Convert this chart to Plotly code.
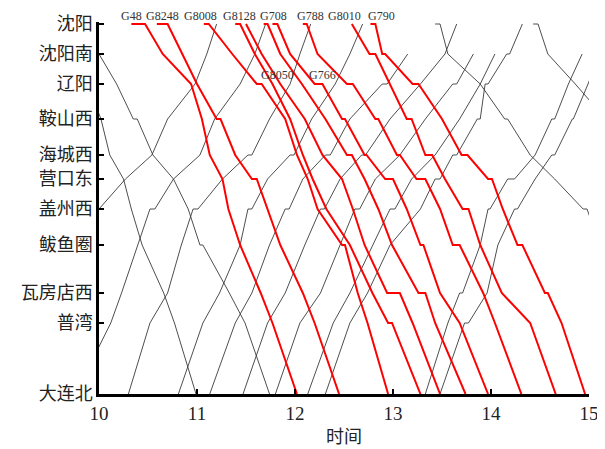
import plotly.graph_objects as go

stations = ["沈阳", "沈阳南", "辽阳", "鞍山西", "海城西", "营口东", "盖州西", "鲅鱼圈", "瓦房店西", "普湾", "大连北"]
station_km = [0, 30, 60, 95, 131, 155, 185, 221, 269, 299, 370]
hour_ticks = [10, 11, 12, 13, 14, 15]

# ---- red trains (down direction), time in hours, station index ----
G48_t = [10.33, 10.47, 10.65, 10.94, 11.05, 11.13, 11.26, 11.32, 11.44, 11.65, 11.77, 12.02]
G48_s = [0, 0, 1, 2, 3, 4, 5, 6, 7, 8, 9, 10]
G8248_t = [10.59, 10.70, 10.85, 11.00, 11.20, 11.24, 11.39, 11.56, 11.61, 11.72, 11.85, 12.08, 12.20, 12.45]
G8248_s = [0, 0, 1, 2, 3, 3, 4, 5, 5, 6, 7, 8, 9, 10]
G8008_t = [11.07, 11.12, 11.36, 11.61, 11.66, 11.90, 12.02, 12.13, 12.23, 12.48, 12.51, 12.64, 12.74, 12.95]
G8008_s = [0, 0, 1, 2, 2, 3, 4, 5, 6, 7, 7, 8, 9, 10]
G8128_t = [11.39, 11.44, 11.59, 11.77, 11.95, 12.08, 12.18, 12.32, 12.56, 12.79, 12.95, 12.99, 13.28]
G8128_s = [0, 0, 1, 2, 3, 4, 5, 6, 7, 8, 9, 9, 10]
G8050_t = [11.50, 11.66, 11.85, 12.10, 12.28, 12.48, 12.59, 12.71, 12.94, 13.07, 13.20, 13.48]
G8050_s = [0, 1, 2, 3, 4, 5, 6, 7, 8, 8, 9, 10]
G708_t = [11.68, 11.72, 11.85, 12.07, 12.31, 12.53, 12.58, 12.71, 12.85, 12.99, 13.26, 13.33, 13.43, 13.74]
G708_s = [0, 0, 1, 2, 3, 4, 4, 5, 6, 7, 8, 8, 9, 10]
G766_t = [11.77, 11.82, 11.95, 12.20, 12.28, 12.48, 12.51, 12.71, 12.73, 12.92, 13.00, 13.14, 13.28, 13.31, 13.48, 13.68, 13.97]
G766_s = [0, 0, 1, 2, 2, 3, 3, 4, 4, 5, 5, 6, 7, 7, 8, 9, 10]
G788_t = [12.08, 12.12, 12.23, 12.53, 12.59, 12.82, 12.85, 13.04, 13.07, 13.24, 13.33, 13.48, 13.61, 13.68, 13.92, 14.04, 14.31]
G788_s = [0, 0, 1, 2, 2, 3, 3, 4, 4, 5, 5, 6, 7, 7, 8, 9, 10]
G8010_t = [12.58, 12.76, 12.82, 12.97, 13.14, 13.19, 13.33, 13.40, 13.53, 13.71, 13.77, 13.89, 14.11, 14.40, 14.66]
G8010_s = [0, 1, 1, 2, 3, 3, 4, 4, 5, 6, 6, 7, 8, 9, 10]
G790_t = [12.77, 12.82, 12.89, 12.92, 13.20, 13.26, 13.50, 13.70, 13.76, 13.97, 14.01, 14.12, 14.27, 14.32, 14.55, 14.58, 14.72, 14.96]
G790_s = [0, 0, 1, 1, 2, 2, 3, 4, 4, 5, 5, 6, 7, 7, 8, 8, 9, 10]

# ---- black trains ----
D1_t = [10.00, 10.18, 10.35, 10.39, 10.55, 10.76, 10.91, 11.03, 11.06, 11.33, 11.49, 11.74]
D1_s = [1, 2, 3, 3, 4, 5, 6, 7, 7, 8, 9, 10]
D2_t = [9.88, 10.02, 10.11, 10.25, 10.33, 10.44, 10.66, 10.77, 10.99]
D2_s = [2, 3, 4, 5, 6, 7, 8, 9, 10]
D3_t = [13.43, 13.48, 13.56, 13.89, 14.14, 14.17, 14.40, 14.65, 14.94, 14.98, 15.11]
D3_s = [0, 0, 1, 2, 3, 3, 4, 5, 6, 6, 7]
D4_t = [14.43, 14.48, 14.58, 14.86, 15.17]
D4_s = [0, 0, 1, 2, 3]
AL1_t = [10.00, 10.27, 10.54, 10.70, 10.98, 11.10, 11.20]
AL1_s = [6, 5, 4, 3, 2, 1, 0]
A0_t = [9.76, 10.12, 10.23, 10.40, 10.52, 10.57, 10.76, 11.03, 11.18, 11.44, 11.59, 11.70]
A0_s = [10, 9, 8, 7, 6, 6, 5, 4, 3, 2, 1, 0]
A1_t = [10.30, 10.52, 10.70, 10.84, 10.96, 11.01, 11.26, 11.52, 11.56, 11.74, 11.95, 12.05, 12.16]
A1_s = [10, 9, 8, 7, 6, 6, 5, 4, 4, 3, 2, 1, 0]
A2_t = [10.81, 11.06, 11.23, 11.44, 11.52, 11.56, 11.72, 11.95, 11.99, 12.17, 12.41, 12.56, 12.69]
A2_s = [10, 9, 8, 7, 6, 6, 5, 4, 4, 3, 2, 1, 0]
A3_t = [11.13, 11.39, 11.56, 11.74, 11.90, 11.94, 12.08, 12.31, 12.36, 12.56, 12.89, 12.94, 13.15]
A3_s = [10, 9, 8, 7, 6, 6, 5, 4, 4, 3, 2, 2, 1]
A4_t = [11.47, 11.72, 11.90, 12.10, 12.26, 12.30, 12.46, 12.68, 12.72, 12.97, 13.28, 13.53, 13.65]
A4_s = [10, 9, 8, 7, 6, 6, 5, 4, 4, 3, 2, 1, 0]
A5_t = [11.80, 12.05, 12.26, 12.46, 12.61, 12.66, 12.82, 13.07, 13.33, 13.61, 13.65, 13.82]
A5_s = [10, 9, 8, 7, 6, 6, 5, 4, 3, 2, 2, 1]
A6_t = [12.13, 12.39, 12.56, 12.79, 12.97, 13.02, 13.19, 13.43, 13.68, 13.89, 14.04]
A6_s = [10, 9, 8, 7, 6, 6, 5, 4, 3, 2, 1]
A7_t = [12.31, 12.56, 12.74, 12.97, 13.28, 13.43, 13.48, 13.61, 13.65, 13.86, 13.89, 13.94, 13.97, 14.16, 14.19, 14.32]
A7_s = [10, 9, 8, 7, 6, 5, 5, 4, 4, 3, 3, 2, 2, 1, 1, 0]
A8_t = [13.33, 13.56, 13.68, 13.71, 13.89, 13.97, 13.99, 14.17, 14.24, 14.45, 14.62, 14.65, 14.79, 14.93]
A8_s = [10, 9, 8, 8, 7, 6, 6, 5, 5, 4, 3, 3, 2, 1]
A9_t = [13.48, 13.73, 13.77, 13.96, 14.07, 14.24, 14.27, 14.45, 14.62, 14.65, 14.83, 14.84, 14.99, 15.11]
A9_s = [10, 9, 9, 8, 7, 6, 6, 5, 4, 4, 3, 3, 2, 1]

red_trains = {
    "G48": (G48_t, G48_s), "G8248": (G8248_t, G8248_s), "G8008": (G8008_t, G8008_s),
    "G8128": (G8128_t, G8128_s), "G8050": (G8050_t, G8050_s), "G708": (G708_t, G708_s),
    "G766": (G766_t, G766_s), "G788": (G788_t, G788_s), "G8010": (G8010_t, G8010_s),
    "G790": (G790_t, G790_s),
}
black_trains = [
    (D1_t, D1_s), (D2_t, D2_s), (D3_t, D3_s), (D4_t, D4_s), (AL1_t, AL1_s), (A0_t, A0_s),
    (A1_t, A1_s), (A2_t, A2_s), (A3_t, A3_s), (A4_t, A4_s), (A5_t, A5_s), (A6_t, A6_s),
    (A7_t, A7_s), (A8_t, A8_s), (A9_t, A9_s),
]

# label placement (layout only): x in hours, y in paper units
label_pos = {
    "G48": (10.33, 1.016), "G8248": (10.65, 1.016), "G8008": (11.04, 1.016), "G8128": (11.43, 1.016),
    "G708": (11.78, 1.016), "G788": (12.16, 1.016), "G8010": (12.51, 1.016), "G790": (12.88, 1.016),
    "G8050": (11.82, 0.857), "G766": (12.28, 0.857),
}

fig = go.Figure()
for t, s in black_trains:
    fig.add_trace(go.Scatter(x=t, y=[station_km[i] for i in s], mode="lines",
                             line=dict(color="#3a3a3a", width=0.9), hoverinfo="skip"))
for name, (t, s) in red_trains.items():
    fig.add_trace(go.Scatter(x=t, y=[station_km[i] for i in s], mode="lines", name=name,
                             line=dict(color="#ff0000", width=2)))

for name, (lx, ly) in label_pos.items():
    fig.add_annotation(x=lx, y=ly, xref="x", yref="paper", text=name, showarrow=False,
                       xanchor="center", yanchor="middle",
                       font=dict(family="Liberation Serif", size=12, color="#333333"))

# the page body adds an 8px offset, so the figure is 8px smaller on each axis
fig.update_layout(
    width=597, height=441,
    margin=dict(l=91, r=16, t=14, b=55, autoexpand=False),
    paper_bgcolor="white", plot_bgcolor="white",
    showlegend=False,
)
fig.update_xaxes(
    range=[10, 15], tickvals=hour_ticks, ticktext=[str(h) for h in hour_ticks],
    ticks="inside", ticklen=5, tickwidth=2, tickcolor="black", automargin=False,
    showline=True, linewidth=2.5, linecolor="black", showgrid=False, zeroline=False,
    tickfont=dict(family="Liberation Serif", size=19, color="#222"),
    title=dict(text="时间", font=dict(family="Noto Sans CJK SC", size=18, color="#222"), standoff=8),
)
fig.update_yaxes(
    range=[370, -2], tickvals=station_km, ticktext=stations,
    ticks="inside", ticklen=5, tickwidth=2, tickcolor="black", automargin=False,
    showline=True, linewidth=2.5, linecolor="black", showgrid=False, zeroline=False,
    tickfont=dict(family="Noto Sans CJK SC", size=18, color="#222"),
)

fig.write_html("out.html")
